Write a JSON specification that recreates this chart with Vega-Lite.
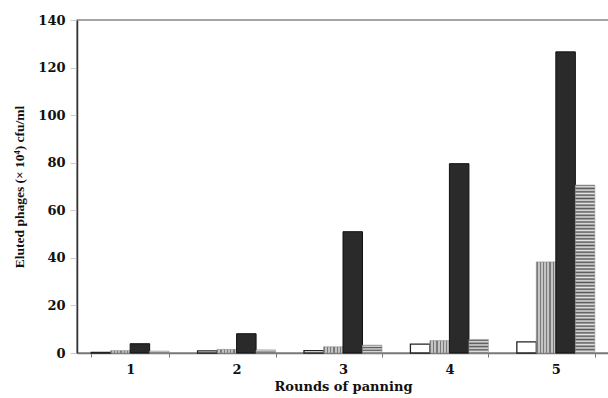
{
  "$schema": "https://vega.github.io/schema/vega-lite/v6.json",
  "width": 532,
  "height": 333,
  "autosize": {"type": "none"},
  "padding": {"left": 77, "top": 20, "right": 0, "bottom": 45},
  "background": "white",
  "config": {
    "view": {"stroke": "#888888", "strokeWidth": 1.5},
    "axis": {"grid": false, "labelFont": "DejaVu Serif", "labelFontWeight": "bold", "labelFontSize": 13, "labelColor": "#111", "titleColor": "#111"}
  },
  "data": {"values": [
    {"round": "1", "series": "A", "value": 0.3},
    {"round": "1", "series": "B", "value": 1.0},
    {"round": "1", "series": "C", "value": 3.9},
    {"round": "1", "series": "D", "value": 0.8},
    {"round": "2", "series": "A", "value": 0.9},
    {"round": "2", "series": "B", "value": 1.5},
    {"round": "2", "series": "C", "value": 8.1},
    {"round": "2", "series": "D", "value": 1.3},
    {"round": "3", "series": "A", "value": 1.0},
    {"round": "3", "series": "B", "value": 2.6},
    {"round": "3", "series": "C", "value": 51.0},
    {"round": "3", "series": "D", "value": 3.3},
    {"round": "4", "series": "A", "value": 3.7},
    {"round": "4", "series": "B", "value": 5.2},
    {"round": "4", "series": "C", "value": 79.6},
    {"round": "4", "series": "D", "value": 5.7},
    {"round": "5", "series": "A", "value": 4.7},
    {"round": "5", "series": "B", "value": 38.3},
    {"round": "5", "series": "C", "value": 126.6},
    {"round": "5", "series": "D", "value": 70.6}
  ]},
  "encoding": {
    "x": {"field": "round", "type": "nominal", "scale": {"paddingInner": 0.267, "paddingOuter": 0.133},
      "axis": {"title": "Rounds of panning", "titleFont": "DejaVu Serif", "titleFontWeight": "bold", "titleFontSize": 13, "labelAngle": 0, "tickBand": "extent", "tickSize": 4, "tickColor": "#777", "domainColor": "#777", "domainWidth": 1.5, "labelPadding": 6, "titlePadding": 4}},
    "xOffset": {"field": "series", "type": "nominal", "scale": {"domain": ["A", "B", "C", "D"], "paddingInner": 0, "paddingOuter": 0}},
    "y": {"field": "value", "type": "quantitative", "scale": {"domain": [0, 140], "nice": false},
      "axis": {"title": "Eluted phages (× 10⁴) cfu/ml", "titleFont": "Liberation Serif", "titleFontWeight": "bold", "titleFontSize": 13.5, "values": [0, 20, 40, 60, 80, 100, 120, 140], "tickSize": 7, "tickColor": "#cccccc", "domainColor": "#333", "domainWidth": 1.5, "labelPadding": 5, "titlePadding": 11}}
  },
  "layer": [
    {
      "transform": [{"filter": "datum.series === 'A'"}],
      "mark": {"type": "bar", "fill": "white", "stroke": "#222", "strokeWidth": 1.3}
    },
    {
      "transform": [{"filter": "datum.series === 'B'"}],
      "mark": {"type": "bar", "stroke": "#888", "strokeWidth": 0.6, "fill": {"gradient": "linear", "x1": 0, "x2": 1, "y1": 0, "y2": 0, "stops": [
        {"offset": 0, "color": "#7a7a7a"}, {"offset": 0.0667, "color": "#7a7a7a"}, {"offset": 0.0667, "color": "#c4c4c4"}, {"offset": 0.1667, "color": "#c4c4c4"},
        {"offset": 0.1667, "color": "#7a7a7a"}, {"offset": 0.2333, "color": "#7a7a7a"}, {"offset": 0.2333, "color": "#c4c4c4"}, {"offset": 0.3333, "color": "#c4c4c4"},
        {"offset": 0.3333, "color": "#7a7a7a"}, {"offset": 0.4, "color": "#7a7a7a"}, {"offset": 0.4, "color": "#c4c4c4"}, {"offset": 0.5, "color": "#c4c4c4"},
        {"offset": 0.5, "color": "#7a7a7a"}, {"offset": 0.5667, "color": "#7a7a7a"}, {"offset": 0.5667, "color": "#c4c4c4"}, {"offset": 0.6667, "color": "#c4c4c4"},
        {"offset": 0.6667, "color": "#7a7a7a"}, {"offset": 0.7333, "color": "#7a7a7a"}, {"offset": 0.7333, "color": "#c4c4c4"}, {"offset": 0.8333, "color": "#c4c4c4"},
        {"offset": 0.8333, "color": "#7a7a7a"}, {"offset": 0.9, "color": "#7a7a7a"}, {"offset": 0.9, "color": "#c4c4c4"}, {"offset": 1, "color": "#c4c4c4"}
      ]}}
    },
    {
      "transform": [{"filter": "datum.series === 'C'"}],
      "mark": {"type": "bar", "fill": "#2a2a2a", "stroke": "#111", "strokeWidth": 1}
    },
    {
      "transform": [{"filter": "datum.series === 'D'"}],
      "mark": {"type": "bar", "stroke": "#999", "strokeWidth": 0.6, "fill": {"gradient": "linear", "x1": 0, "x2": 0, "y1": 0, "y2": 1, "stops": [
        {"offset": 0.00, "color": "#555"}, {"offset": 0.01, "color": "#e6e6e6"}, {"offset": 0.02, "color": "#555"}, {"offset": 0.03, "color": "#e6e6e6"}, {"offset": 0.04, "color": "#555"},
        {"offset": 0.05, "color": "#e6e6e6"}, {"offset": 0.06, "color": "#555"}, {"offset": 0.07, "color": "#e6e6e6"}, {"offset": 0.08, "color": "#555"}, {"offset": 0.09, "color": "#e6e6e6"},
        {"offset": 0.10, "color": "#555"}, {"offset": 0.11, "color": "#e6e6e6"}, {"offset": 0.12, "color": "#555"}, {"offset": 0.13, "color": "#e6e6e6"}, {"offset": 0.14, "color": "#555"},
        {"offset": 0.15, "color": "#e6e6e6"}, {"offset": 0.16, "color": "#555"}, {"offset": 0.17, "color": "#e6e6e6"}, {"offset": 0.18, "color": "#555"}, {"offset": 0.19, "color": "#e6e6e6"},
        {"offset": 0.20, "color": "#555"}, {"offset": 0.21, "color": "#e6e6e6"}, {"offset": 0.22, "color": "#555"}, {"offset": 0.23, "color": "#e6e6e6"}, {"offset": 0.24, "color": "#555"},
        {"offset": 0.25, "color": "#e6e6e6"}, {"offset": 0.26, "color": "#555"}, {"offset": 0.27, "color": "#e6e6e6"}, {"offset": 0.28, "color": "#555"}, {"offset": 0.29, "color": "#e6e6e6"},
        {"offset": 0.30, "color": "#555"}, {"offset": 0.31, "color": "#e6e6e6"}, {"offset": 0.32, "color": "#555"}, {"offset": 0.33, "color": "#e6e6e6"}, {"offset": 0.34, "color": "#555"},
        {"offset": 0.35, "color": "#e6e6e6"}, {"offset": 0.36, "color": "#555"}, {"offset": 0.37, "color": "#e6e6e6"}, {"offset": 0.38, "color": "#555"}, {"offset": 0.39, "color": "#e6e6e6"},
        {"offset": 0.40, "color": "#555"}, {"offset": 0.41, "color": "#e6e6e6"}, {"offset": 0.42, "color": "#555"}, {"offset": 0.43, "color": "#e6e6e6"}, {"offset": 0.44, "color": "#555"},
        {"offset": 0.45, "color": "#e6e6e6"}, {"offset": 0.46, "color": "#555"}, {"offset": 0.47, "color": "#e6e6e6"}, {"offset": 0.48, "color": "#555"}, {"offset": 0.49, "color": "#e6e6e6"},
        {"offset": 0.50, "color": "#555"}, {"offset": 0.51, "color": "#e6e6e6"}, {"offset": 0.52, "color": "#555"}, {"offset": 0.53, "color": "#e6e6e6"}, {"offset": 0.54, "color": "#555"},
        {"offset": 0.55, "color": "#e6e6e6"}, {"offset": 0.56, "color": "#555"}, {"offset": 0.57, "color": "#e6e6e6"}, {"offset": 0.58, "color": "#555"}, {"offset": 0.59, "color": "#e6e6e6"},
        {"offset": 0.60, "color": "#555"}, {"offset": 0.61, "color": "#e6e6e6"}, {"offset": 0.62, "color": "#555"}, {"offset": 0.63, "color": "#e6e6e6"}, {"offset": 0.64, "color": "#555"},
        {"offset": 0.65, "color": "#e6e6e6"}, {"offset": 0.66, "color": "#555"}, {"offset": 0.67, "color": "#e6e6e6"}, {"offset": 0.68, "color": "#555"}, {"offset": 0.69, "color": "#e6e6e6"},
        {"offset": 0.70, "color": "#555"}, {"offset": 0.71, "color": "#e6e6e6"}, {"offset": 0.72, "color": "#555"}, {"offset": 0.73, "color": "#e6e6e6"}, {"offset": 0.74, "color": "#555"},
        {"offset": 0.75, "color": "#e6e6e6"}, {"offset": 0.76, "color": "#555"}, {"offset": 0.77, "color": "#e6e6e6"}, {"offset": 0.78, "color": "#555"}, {"offset": 0.79, "color": "#e6e6e6"},
        {"offset": 0.80, "color": "#555"}, {"offset": 0.81, "color": "#e6e6e6"}, {"offset": 0.82, "color": "#555"}, {"offset": 0.83, "color": "#e6e6e6"}, {"offset": 0.84, "color": "#555"},
        {"offset": 0.85, "color": "#e6e6e6"}, {"offset": 0.86, "color": "#555"}, {"offset": 0.87, "color": "#e6e6e6"}, {"offset": 0.88, "color": "#555"}, {"offset": 0.89, "color": "#e6e6e6"},
        {"offset": 0.90, "color": "#555"}, {"offset": 0.91, "color": "#e6e6e6"}, {"offset": 0.92, "color": "#555"}, {"offset": 0.93, "color": "#e6e6e6"}, {"offset": 0.94, "color": "#555"},
        {"offset": 0.95, "color": "#e6e6e6"}, {"offset": 0.96, "color": "#555"}, {"offset": 0.97, "color": "#e6e6e6"}, {"offset": 0.98, "color": "#555"}, {"offset": 0.99, "color": "#e6e6e6"},
        {"offset": 1.00, "color": "#555"}
      ]}}
    }
  ]
}
